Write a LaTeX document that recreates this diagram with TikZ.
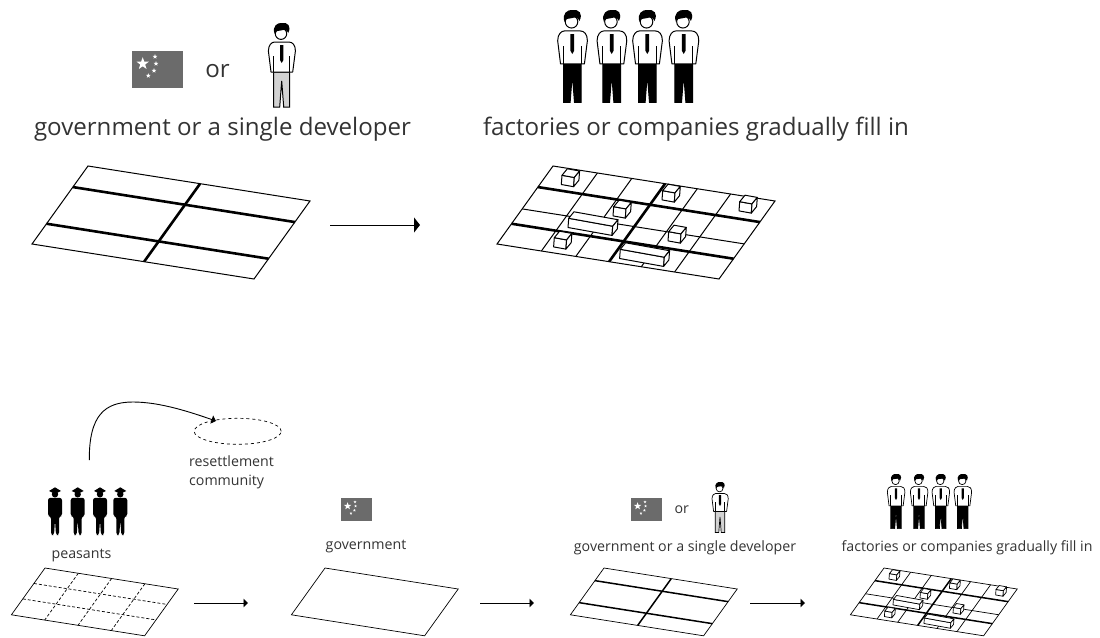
\documentclass[tikz,border=0pt]{standalone}
\usepackage{fontspec}
\setmainfont{Open Sans}
\usepackage{tikz}
\usetikzlibrary{shapes,shapes.geometric,arrows.meta,calc,positioning}
\definecolor{inkgrey}{HTML}{333333}
\definecolor{flaggrey}{HTML}{6B6B6B}
\definecolor{legsgrey}{HTML}{D2D2D2}

% land plot, corners are relative to the top left one
\newcommand{\landbase}{
	\coordinate (tl) at (0,0);
	\coordinate (tr) at (222,35);
	\coordinate (br) at (166,113);
	\coordinate (bl) at (-56,78);
	\draw[parcel] (tl) -- (tr) -- (br) -- (bl) -- cycle;
}
\newcommand{\landroads}{
	\foreach \v in {.27,.74}
		\draw[road] ($(tl)!\v!(bl)$) -- ($(tr)!\v!(br)$);
	\draw[road] ($(tl)!.505!(tr)$) -- ($(bl)!.505!(br)$);
}
% building: front corner, then length of the front
\newcommand{\bldg}[3]{
	\draw[parcel,fill=white,line join=round] (#1,#2) -- ++(#3,#3*.18) -- ++(-.7,9.2) -- ++(-#3,-#3*.18) -- cycle;
	\draw[parcel,fill=white,line join=round] (#1,#2) -- ++(5.3,-6.5) -- ++(#3,#3*.18) -- ++(-5.3,6.5) -- cycle;
	\draw[parcel,fill=white,line join=round] (#1+#3,#2+#3*.18) -- ++(5.3,-6.5) -- ++(-.7,9.2) -- ++(-5.3,6.5) -- cycle;
}

\begin{document}
\begin{tikzpicture}[
	  x=1pt,y=-1pt,
	  every node/.style={align=center,text=inkgrey,inner sep=0pt},
	  bigtext/.style={font=\fontsize{24.1}{28}\selectfont},
	  smalltext/.style={font=\fontsize{14.2}{19}\selectfont},
	  parcel/.style={draw=black,line width=1pt},
	  road/.style={draw=black,line width=2.6pt},
	  dotline/.style={draw=black,line width=.7pt,densely dashed},
	  shirt/.style={draw=black,fill=white,line width=1pt,line join=round},
	  trousers/.style={draw=black,fill=black,line width=1pt},
	  thinlook/.style={parcel/.style={draw=black,line width=.7pt},road/.style={draw=black,line width=1.5pt},shirt/.style={draw=black,fill=white,line width=.7pt,line join=round},trousers/.style={draw=black,fill=black,line width=.7pt}},
	  star mark/.style={star,star points=5,star point ratio=2.5,fill=white,draw=none,inner sep=0pt},
	  to/.style={-{Triangle[length=6pt,width=15pt]},draw=black,line width=1pt},
	  tosmall/.style={-{Triangle[length=4.5pt,width=8.5pt]},draw=black,line width=.9pt},
	  pics/land/.style={code={\landbase}},
	  pics/landgrid/.style={code={
		\landbase
		\foreach \v in {.33,.66}
			\draw[dotline] ($(tl)!\v!(bl)$) -- ($(tr)!\v!(br)$);
		\foreach \u in {.25,.5,.75}
			\draw[dotline] ($(tl)!\u!(tr)$) -- ($(bl)!\u!(br)$);
	  }},
	  pics/landroads/.style={code={\landbase\landroads}},
	  pics/landfull/.style={code={
		\landbase
		\draw[parcel] ($(tl)!.55!(bl)$) -- ($(tr)!.55!(br)$);
		\foreach \u in {.2,.355,.65,.8}
			\draw[parcel] ($(tl)!\u!(tr)$) -- ($(bl)!\u!(br)$);
		\landroads
		\bldg{9}{9.3}{12.3}
		\bldg{60.7}{40.7}{12.3}
		\bldg{109.7}{24.7}{12.3}
		\bldg{186.7}{35.7}{12.3}
		\bldg{115.7}{65.7}{12.3}
		\bldg{1.3}{71.7}{12.3}
		\bldg{15.7}{52.3}{44}
		\bldg{67.3}{83.3}{44}
	  }},
	  pics/flag/.style={code={
		\fill[flaggrey] (0,0) rectangle (51.3,37.6);
		\node[star mark,minimum size=13pt*\flagsize] (bigstar) at (11,13) {};
		\node[star mark,minimum size=5pt*\flagsize] (stara) at (23.3,6) {};
		\node[star mark,minimum size=5pt*\flagsize] (starb) at (24.3,13) {};
		\node[star mark,minimum size=5pt*\flagsize] (starc) at (22.3,20) {};
		\node[star mark,minimum size=5pt*\flagsize] (stard) at (16.6,25) {};
	  }},
	  pics/man/.style={code={
		\draw[trousers] (-8,49) -- (8,49) -- (8,84) -- (2,84) -- (0,58) -- (-2,84) -- (-8,84) -- cycle;
		\draw[shirt] (-10.7,49) -- (-13.3,28) .. controls (-13.3,22) and (-10,19) .. (-7,19) -- (7,19) .. controls (11,19) and (13.7,22) .. (13.7,28) -- (11,49) -- cycle;
		\draw[shirt] (-8,49) -- (-8,33) (8,49) -- (8,33);
		\fill (-1.7,22) -- (1.7,22) -- (1.7,37) -- (0,40) -- (-1.7,37) -- cycle;
		\draw[shirt] (-.7,10.7) circle (5.7);
		\fill (-7,11) .. controls (-10,3) and (-4,-.5) .. (0,0) .. controls (6,-.8) and (10,3) .. (6.5,10) .. controls (5.5,6.5) and (2,6.5) .. (-1,7.5) .. controls (-4,7.5) and (-6,8) .. (-7,11) -- cycle;
	  }},
	  pics/peasant/.style={code={
		\fill (-6,3.7) -- (0,0) -- (6,3.7) -- (0,6.5) -- cycle;
		\fill (0,7) circle (3.2);
		\fill[rounded corners=2.5pt] (-7,10.5) -- (7,10.5) -- (7,29) -- (4,29) -- (4,47.7) -- (1,47.7) -- (0,33) -- (-1,47.7) -- (-4,47.7) -- (-4,29) -- (-7,29) -- cycle;
	  }}]

	  \useasboundingbox (0,0) rectangle (1100,637);

	  % upper row
	  \def\flagsize{1}
	  \pic (flagtop) at (131.7,50.7) {flag};
	  \node[bigtext] (ortop) at (217.5,71) {or};
	  \pic[trousers/.style={draw=black,fill=legsgrey,line width=1pt}] (bosstop) at (281.7,23) {man};
	  \node[bigtext] (govtop) at (222.5,129.5) {government or a single developer};
	  \foreach \x [count=\i] in {572.3,611.7,647.3,683.7}
		\pic[scale=1.1] (firm\i) at (\x,10) {man};
	  \node[bigtext] (firmtext) at (696,129.5) {factories or companies gradually fill in};
	  \pic (landa) at (88,166) {landroads};
	  \pic (landb) at (553,166) {landfull};
	  \coordinate (arrowa) at (330,225);
	  \coordinate (arrowb) at (420,225);
	  \draw[to] (arrowa) -- (arrowb);

	  % lower row
	  \foreach \x [count=\i] in {55,77.7,100,120.3}
		\pic (farmer\i) at (\x,487.3) {peasant};
	  \node[smalltext] (peasanttext) at (81.5,555.5) {peasants};
	  \node[draw=black,dashed,line width=.7pt,ellipse,minimum width=87pt,minimum height=26pt] (camp) at (237.7,431.3) {};
	  \node[smalltext,align=left,anchor=north west] (camptext) at (189,456) {resettlement\\community};
	  \coordinate (leave) at (89.3,460);
	  \coordinate (arrive) at (216,421);
	  \draw[tosmall] (leave) .. controls (89,415) and (105,402) .. (133,402) .. controls (160,402) and (190,412) .. (arrive);

	  \def\flagsize{.6}
	  \pic[scale=.6] (flagmid) at (341,498.3) {flag};
	  \node[smalltext] (govmid) at (366,547) {government};
	  \pic[scale=.6] (flagend) at (631,498.3) {flag};
	  \node[smalltext] (orend) at (681.7,510) {or};
	  \pic[scale=.6,thinlook,trousers/.style={draw=black,fill=legsgrey,line width=.7pt}] (bossend) at (720,482) {man};
	  \node[smalltext] (govend) at (685,548) {government or a single developer};
	  \foreach \x [count=\i] in {896,919,940.7,962.7}
		\pic[scale=.65,thinlook] (firmend\i) at (\x,474) {man};
	  \node[smalltext] (firmend) at (967,548) {factories or companies gradually fill in};

	  \pic[scale=.6,thinlook] (landc) at (45,568) {landgrid};
	  \pic[scale=.6,thinlook] (landd) at (325,568) {land};
	  \pic[scale=.6,thinlook] (lande) at (604,568) {landroads};
	  \pic[scale=.6,thinlook] (landf) at (884,568) {landfull};

	  \coordinate (arrowc) at (194,603);
	  \coordinate (arrowd) at (248,603);
	  \coordinate (arrowe) at (480,603);
	  \coordinate (arrowf) at (534,603);
	  \coordinate (arrowg) at (750,603);
	  \coordinate (arrowh) at (805,603);
	  \draw[tosmall] (arrowc) -- (arrowd);
	  \draw[tosmall] (arrowe) -- (arrowf);
	  \draw[tosmall] (arrowg) -- (arrowh);

\end{tikzpicture}
\end{document}
